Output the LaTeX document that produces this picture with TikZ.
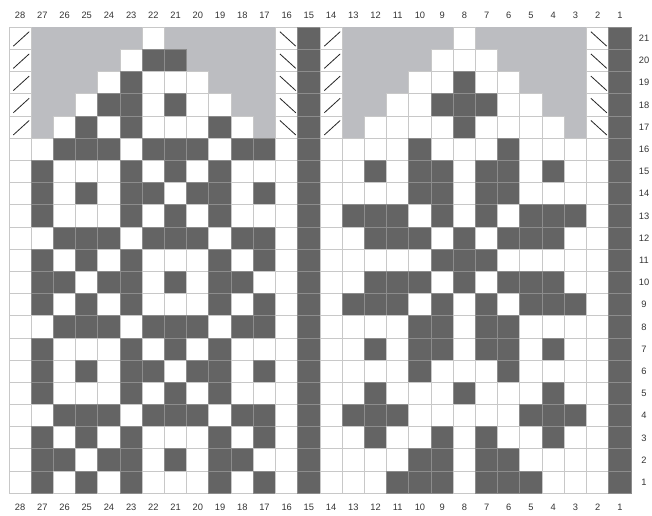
\documentclass[tikz,border=0pt]{standalone}
\usepackage{fontspec}
\setmainfont{Liberation Sans}
\definecolor{darkc}{RGB}{100,100,100}
\definecolor{greyc}{RGB}{188,189,193}
\definecolor{gridc}{RGB}{200,200,200}
\definecolor{darkedge}{RGB}{140,140,140}
\definecolor{txtc}{RGB}{51,51,51}
\tikzset{
  cellbox/.style={minimum width=22.214pt,minimum height=22.19pt,inner sep=0pt,outer sep=0pt,line width=0.9pt},
  fill-w/.style={fill=white},
  fill-s/.style={fill=white},
  fill-b/.style={fill=white},
  fill-d/.style={fill=darkc},
  fill-g/.style={fill=greyc},
  edge-w/.style={draw=gridc},
  edge-d/.style={draw=darkedge},
  edge-g/.style={},
  edge-s/.style={draw=gridc,path picture={\draw[line width=0.8pt,black!85]
      ([shift={(4.3pt,3.3pt)}]path picture bounding box.south west) --
      ([shift={(-2pt,-4.4pt)}]path picture bounding box.north east);}},
  edge-b/.style={draw=gridc,path picture={\draw[line width=0.8pt,black!85]
      ([shift={(4.3pt,-4.4pt)}]path picture bounding box.north west) --
      ([shift={(-2pt,3.3pt)}]path picture bounding box.south east);}},
  lbl/.style={font=\fontsize{9.3}{10}\selectfont,text=txtc,inner sep=0pt}
}
\begin{document}
\begin{tikzpicture}[x=1pt,y=-1pt]
\useasboundingbox (0,0) rectangle (652,515);
\def\chart{{s,g,g,g,g,g,w,g,g,g,g,g,b,d,s,g,g,g,g,g,w,g,g,g,g,g,b,d},
{s,g,g,g,g,w,d,d,g,g,g,g,b,d,s,g,g,g,g,w,w,w,g,g,g,g,b,d},
{s,g,g,g,w,d,w,w,w,g,g,g,b,d,s,g,g,g,w,w,d,w,w,g,g,g,b,d},
{s,g,g,w,d,d,w,d,w,w,g,g,b,d,s,g,g,w,w,d,d,d,w,w,g,g,b,d},
{s,g,w,d,w,d,w,w,w,d,w,g,b,d,s,g,w,w,w,w,d,w,w,w,w,g,b,d},
{w,w,d,d,d,w,d,d,d,w,d,d,w,d,w,w,w,w,d,w,w,w,d,w,w,w,w,d},
{w,d,w,w,w,d,w,d,w,d,w,w,w,d,w,w,d,w,d,d,w,d,d,w,d,w,w,d},
{w,d,w,d,w,d,d,w,d,d,w,d,w,d,w,w,w,w,d,d,w,d,d,w,w,w,w,d},
{w,d,w,w,w,d,w,d,w,d,w,w,w,d,w,d,d,d,w,d,w,d,w,d,d,d,w,d},
{w,w,d,d,d,w,d,d,d,w,d,d,w,d,w,w,d,d,d,w,d,w,d,d,d,w,w,d},
{w,d,w,d,w,d,w,w,w,d,w,d,w,d,w,w,w,w,w,d,d,d,w,w,w,w,w,d},
{w,d,d,w,d,d,w,d,w,d,d,w,w,d,w,w,d,d,d,w,d,w,d,d,d,w,w,d},
{w,d,w,d,w,d,w,w,w,d,w,d,w,d,w,d,d,d,w,d,w,d,w,d,d,d,w,d},
{w,w,d,d,d,w,d,d,d,w,d,d,w,d,w,w,w,w,d,d,w,d,d,w,w,w,w,d},
{w,d,w,w,w,d,w,d,w,d,w,w,w,d,w,w,d,w,d,d,w,d,d,w,d,w,w,d},
{w,d,w,d,w,d,d,w,d,d,w,d,w,d,w,w,w,w,d,w,w,w,d,w,w,w,w,d},
{w,d,w,w,w,d,w,d,w,d,w,w,w,d,w,w,d,w,w,w,d,w,w,w,d,w,w,d},
{w,w,d,d,d,w,d,d,d,w,d,d,w,d,w,d,d,d,w,w,w,w,w,d,d,d,w,d},
{w,d,w,d,w,d,w,w,w,d,w,d,w,d,w,w,d,w,w,d,w,d,w,w,d,w,w,d},
{w,d,d,w,d,d,w,d,w,d,d,w,w,d,w,w,w,w,d,d,w,d,d,w,w,w,w,d},
{w,d,w,d,w,d,w,w,w,d,w,d,w,d,w,w,w,d,d,d,w,d,d,d,w,w,w,d}}
% pass 1: fills
\foreach \rowdata [count=\r] in \chart {
  \foreach \c [count=\k] in \rowdata {
    \node[cellbox,fill-\c] (f\r-\k) at ({9+(\k-0.5)*22.214},{27.3+(\r-0.5)*22.19}) {};
  }
}
% pass 2: edges and stitch symbols
\foreach \rowdata [count=\r] in \chart {
  \foreach \c [count=\k] in \rowdata {
    \node[cellbox,edge-\c] (c\r-\k) at ({9+(\k-0.5)*22.214},{27.3+(\r-0.5)*22.19}) {};
  }
}
% column numbers
\foreach \k [evaluate=\k as \n using int(29-\k)] in {1,...,28} {
  \node[lbl] (top\k) at ({9+(\k-0.5)*22.214},15.5) {\n};
  \node[lbl] (bot\k) at ({9+(\k-0.5)*22.214},507.5) {\n};
}
% row numbers
\foreach \r [evaluate=\r as \n using int(22-\r)] in {1,...,21} {
  \node[lbl] (rl\r) at (644,{27.3+(\r-0.5)*22.19}) {\n};
}
\end{tikzpicture}
\end{document}
